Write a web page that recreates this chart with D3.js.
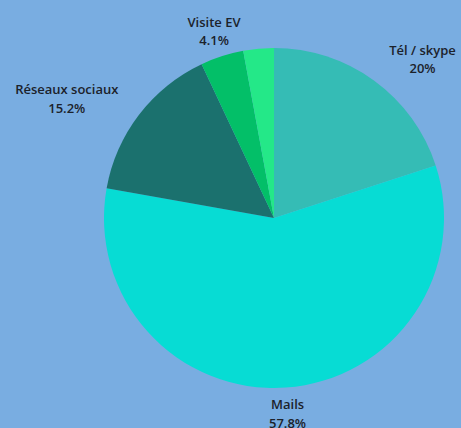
<!DOCTYPE html>
<html>
<head>
<meta charset="utf-8">
<script src="https://cdn.jsdelivr.net/npm/d3@7"></script>
<style>
  html, body { margin: 0; padding: 0; background: #79ade1; }
  svg { display: block; }
  text { font-family: "Open Sans", sans-serif; font-weight: 600; font-size: 13px; fill: #1c222b; }
</style>
</head>
<body>
<div id="chart"></div>
<script>
const categories = ["Tél / skype", "Mails", "Réseaux sociaux", "Visite EV", "Autre"];
const values = [20, 57.8, 15.2, 4.1, 2.9];
const valueLabels = ["20%", "57.8%", "15.2%", "4.1%", ""];
const colors = ["#35bcb5", "#07dcd4", "#1b716e", "#03bf68", "#24e888"];

const width = 461,
    height = 428,
    radius = 170,
    labelRadius = 196;

const svg = d3.select("#chart").append("svg")
    .attr("width", width)
    .attr("height", height)
  .append("g")
    .attr("transform", "translate(274,218)");

const data = categories.map(function(c, i) {
  return { name: c, value: values[i], label: valueLabels[i], color: colors[i] };
});

const pie = d3.pie()
    .sort(null)
    .value(function(d) { return d.value; });

const arc = d3.arc()
    .innerRadius(0)
    .outerRadius(radius);

const labelArc = d3.arc()
    .innerRadius(labelRadius)
    .outerRadius(labelRadius);

const arcs = pie(data);

svg.selectAll("path")
    .data(arcs)
  .enter().append("path")
    .attr("d", arc)
    .style("fill", function(d) { return d.data.color; });

// labels, two centred lines, block anchored by side
const labels = svg.selectAll("g.label")
    .data(arcs.filter(function(d) { return d.data.label !== ""; }))
  .enter().append("g")
    .attr("class", "label");

labels.each(function(d) {
  const g = d3.select(this);
  const t1 = g.append("text").attr("text-anchor", "middle").text(d.data.name);
  const t2 = g.append("text").attr("text-anchor", "middle").text(d.data.label);
  const w = Math.max(t1.node().getComputedTextLength(), t2.node().getComputedTextLength());
  const c = labelArc.centroid(d);
  const mid = (d.startAngle + d.endAngle) / 2;
  const s = Math.sin(mid);
  let x = c[0];
  if (s > 0.5) x += w / 2;
  else if (s < -0.5) x -= w / 2;
  t1.attr("x", x).attr("y", c[1] - 9).attr("dy", "0.35em");
  t2.attr("x", x).attr("y", c[1] + 9.5).attr("dy", "0.35em");
});
</script>
</body>
</html>
